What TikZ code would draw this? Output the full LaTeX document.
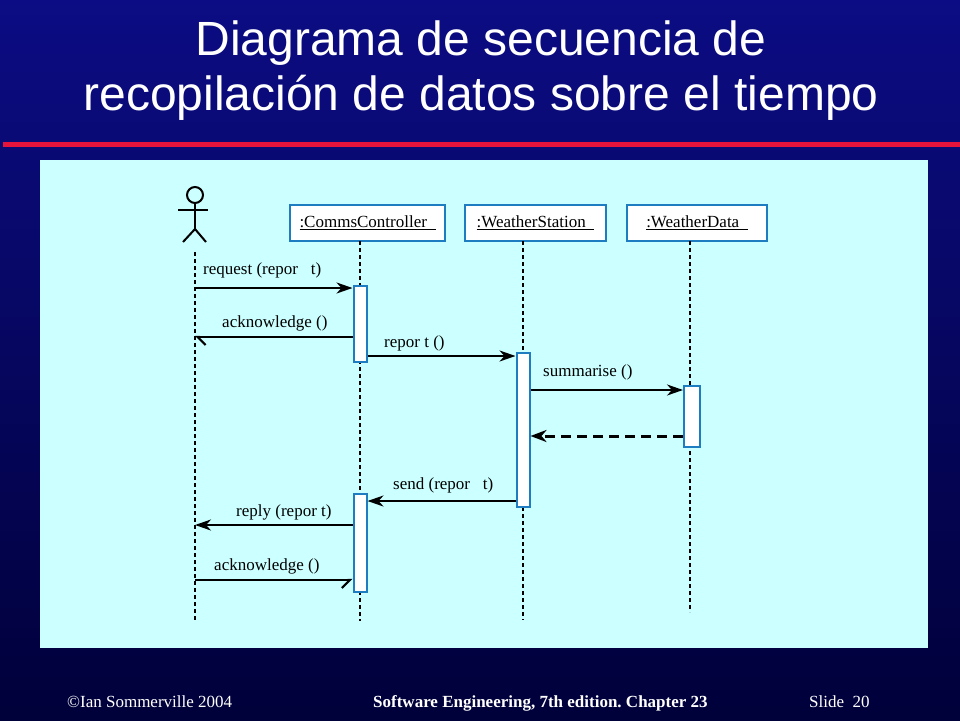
\documentclass[tikz,border=0pt]{standalone}
\usepackage{fontspec}
\setmainfont{Liberation Serif}
\newfontfamily\titlefont{Liberation Sans}
\usetikzlibrary{arrows.meta}
\frenchspacing
\definecolor{slidetop}{RGB}{12,12,132}
\definecolor{slidebot}{RGB}{0,0,58}
\definecolor{rulered}{RGB}{228,20,60}
\definecolor{panel}{RGB}{204,255,255}
\definecolor{objblue}{RGB}{30,125,192}
% underlined object name, rule a bit heavier than \underline
\newcommand{\uname}[1]{\setbox0\hbox{#1}\rlap{\vrule height -1.2pt depth 2.8pt width \wd0}\box0}
\begin{document}
\begin{tikzpicture}[x=1pt,y=-1pt,
  object/.style={draw=objblue,line width=2pt,fill=white,minimum height=36pt,inner sep=0pt,font=\fontsize{17}{19}\selectfont},
  activation/.style={draw=objblue,line width=2pt,fill=white,minimum width=13pt,inner sep=0pt},
  life/.style={line width=1.8pt,dash pattern=on 4pt off 3pt},
  msg/.style={line width=2.2pt,-{Stealth[length=16pt,width=11pt,inset=5pt]}},
  back/.style={line width=3pt,dash pattern=on 10pt off 6pt,-{Stealth[length=16pt,width=12pt,inset=5pt]}},
  async/.style={line width=2.2pt,-{Straight Barb[#1,length=8pt,width=16pt]}},
  lbl/.style={font=\fontsize{17}{19}\selectfont,anchor=base west,inner sep=0pt},
  foot/.style={text=white,font=\fontsize{17}{19}\selectfont,anchor=base west,inner sep=0pt}]
\useasboundingbox (0,0) rectangle (960,720);
\shade[top color=slidetop,bottom color=slidebot] (0,0) rectangle (960,720);
\node[text=white,font=\titlefont\fontsize{48}{56}\selectfont,anchor=base,inner sep=0pt] (title1) at (481,55) {Diagrama de secuencia de};
\node[text=white,font=\titlefont\fontsize{48}{56}\selectfont,anchor=base,inner sep=0pt] (title2) at (481,110) {recopilación de datos sobre el tiempo};
\fill[rulered] (3,142) rectangle (960,147);
\fill[panel] (40,160) rectangle (928,648);
% actor
\draw[line width=2pt] (195,195) circle (8);
\draw[line width=2pt] (195,203) -- (195,229);
\draw[line width=2pt] (178,210) -- (208,210);
\draw[line width=2pt] (183,242) -- (195,229) -- (206,242);
\coordinate (actor) at (195,252);
% objects
\node[object,minimum width=155pt] (cc) at (367.5,223) {\uname{:CommsController~~}};
\node[object,minimum width=141pt] (ws) at (535.5,223) {\uname{:WeatherStation~~}};
\node[object,minimum width=140pt] (wd) at (697,223) {\uname{:WeatherData~~}};
% lifelines
\draw[life] (actor) -- (195,622);
\draw[life] (360,241) -- (360,621);
\draw[life] (523,241) -- (523,620);
\draw[life] (690,241) -- (690,612);
% activations
\node[activation,minimum height=76pt] (a1) at (360,324) {};
\node[activation,minimum height=154pt] (a2) at (523,430) {};
\node[activation,minimum height=61pt,minimum width=16pt] (a3) at (692,416.5) {};
\node[activation,minimum height=98pt] (a4) at (360,543) {};
% messages
\draw[msg] (actor |- 0,288) -- (a1.west |- 0,288);
\node[lbl] (m1) at (203,274) {request (repor\ \ \ t)};
\draw[async=left] (a1.west |- 0,337) -- (actor |- 0,337);
\node[lbl] (m2) at (222,327) {acknowledge ()};
\draw[msg] (a1.east |- 0,356) -- (a2.west |- 0,356);
\node[lbl] (m3) at (384,347) {repor t ()};
\draw[msg] (a2.east |- 0,390) -- (a3.west |- 0,390);
\node[lbl] (m4) at (543,376) {summarise ()};
\draw[back] (a3.west |- 0,436) -- (a2.east |- 0,436);
\draw[msg] (a2.west |- 0,501) -- (a4.east |- 0,501);
\node[lbl] (m5) at (393,489) {send (repor\ \ \ t)};
\draw[msg] (a4.west |- 0,525) -- (actor |- 0,525);
\node[lbl] (m6) at (236,516) {reply (repor t)};
\draw[async=right] (actor |- 0,580) -- (a4.west |- 0,580);
\node[lbl] (m7) at (214,570) {acknowledge ()};
% footer
\node[foot] (copy) at (67,707) {©Ian Sommerville 2004};
\node[foot,font=\bfseries\fontsize{17}{19}\selectfont] (book) at (373,707) {Software Engineering, 7th edition. Chapter 23};
\node[foot] (slide) at (809,707) {Slide\ \ 20};
\end{tikzpicture}
\end{document}
